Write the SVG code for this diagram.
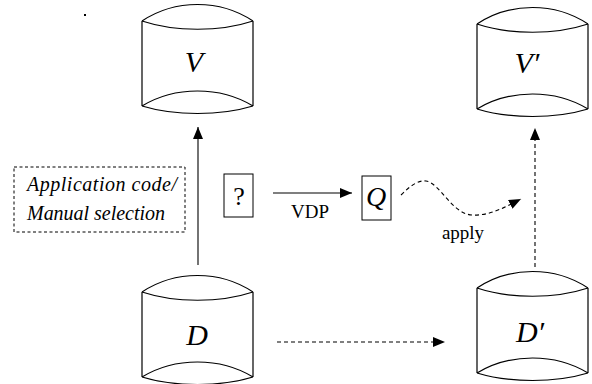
<svg xmlns="http://www.w3.org/2000/svg" width="592" height="384" viewBox="0 0 592 384">
<style>
.cyl{fill:#fff;stroke:#000;stroke-width:1.2}
.lbl{font-family:'Liberation Serif','Times New Roman',serif;fill:#000}
.it{font-style:italic}
.ln{fill:none;stroke:#000;stroke-width:1.1}
.dash{stroke-dasharray:4 3}
.box{fill:#fff;stroke:#000;stroke-width:1}
</style>
<defs>
<path id="cyl" d="M0,0 C33,-22 78,-22 111,0 M0,0 C33,11 78,11 111,0 M0,0 V85 M111,0 V85 M0,85 C33,65 78,65 111,85 M0,85 C33,95 78,95 111,85"/>
<marker id="ah" viewBox="0 0 12 10" refX="12" refY="5" markerWidth="12" markerHeight="10" markerUnits="userSpaceOnUse" orient="auto">
<path d="M0,0 L12,5 L0,10 Z" fill="#000"/>
</marker>
</defs>
<rect x="84" y="14" width="2" height="2" fill="#000"/>
<g id="node-V">
<use href="#cyl" x="142" y="21" class="cyl"/>
<text class="lbl it" x="194" y="72" font-size="30" text-anchor="middle">V</text>
</g>
<g id="node-Vp">
<use href="#cyl" x="477" y="24" class="cyl"/>
<text class="lbl it" x="527" y="73" font-size="30" text-anchor="middle">V′</text>
</g>
<g id="node-D">
<use href="#cyl" x="142" y="292" class="cyl"/>
<text class="lbl it" x="197" y="345" font-size="30" text-anchor="middle">D</text>
</g>
<g id="node-Dp">
<use href="#cyl" x="477" y="288" class="cyl"/>
<text class="lbl it" x="530" y="342" font-size="30" text-anchor="middle">D′</text>
</g>
<g id="node-app">
<rect x="14" y="167" width="171" height="65" fill="none" stroke="#000" stroke-width="1" stroke-dasharray="3 2.5"/>
<text class="lbl it" x="27" y="191" font-size="20" textLength="150" lengthAdjust="spacing">Application code/</text>
<text class="lbl it" x="27" y="220" font-size="20" textLength="138" lengthAdjust="spacing">Manual selection</text>
</g>
<g id="node-q">
<rect class="box" x="224" y="174" width="29" height="43"/>
<text class="lbl" x="239" y="205" font-size="26" text-anchor="middle">?</text>
</g>
<g id="node-Q">
<rect class="box" x="362" y="176" width="29" height="44"/>
<text class="lbl it" x="376" y="206" font-size="28" text-anchor="middle">Q</text>
</g>
<g id="connectors">
<path class="ln" d="M198,265 V127" marker-end="url(#ah)"/>
<path class="ln dash" d="M535,267 V128" marker-end="url(#ah)"/>
<path class="ln dash" d="M277,342 H445" marker-end="url(#ah)"/>
<path class="ln" d="M273,193 H352" marker-end="url(#ah)"/>
<path class="ln dash" d="M401,195 C410,186 418,180 426,181 C440,183 452,214 472,215 C490,216 505,207 521,199" marker-end="url(#ah)"/>
<text class="lbl" x="310" y="218" font-size="19" text-anchor="middle">VDP</text>
<text class="lbl" x="463" y="239" font-size="19" text-anchor="middle">apply</text>
</g>
</svg>
